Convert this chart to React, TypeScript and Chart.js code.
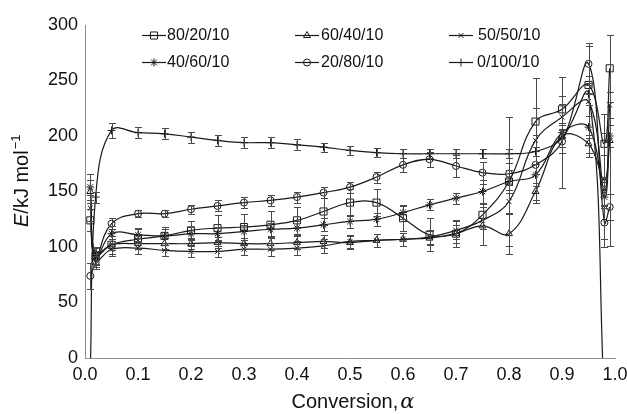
import React, { useEffect, useRef } from 'react';
import { Chart, registerables } from 'chart.js';

Chart.register(...registerables);

// ---------- data ----------
const ALPHA = [0.01, 0.02, 0.05, 0.1, 0.15, 0.2, 0.25, 0.3, 0.35, 0.4, 0.45, 0.5, 0.55, 0.6, 0.65, 0.7, 0.75, 0.8, 0.85, 0.9, 0.95, 0.98, 0.99];

const SERIES_LABELS = ['80/20/10', '60/40/10', '50/50/10', '40/60/10', '20/80/10', '0/100/10'];

const E_80_20 = [124, 92, 102, 107, 110, 115, 117, 118, 120, 124, 132, 140, 140, 126, 111, 112, 129, 159, 213, 224, 246, 193, 261];
const E_60_40 = [150, 94, 102, 103, 103, 103, 104, 103, 103, 104, 105, 104, 106, 107, 108, 112, 119, 112, 150, 200, 193, 160, 196];
const E_50_50 = [135, 88, 98, 99, 97, 96, 96, 98, 98, 99, 101, 105, 106, 107, 109, 115, 124, 141, 196, 217, 231, 150, 228];
const E_40_60 = [154, 90, 112, 111, 110, 112, 112, 114, 116, 117, 120, 123, 125, 131, 138, 144, 150, 159, 165, 203, 208, 145, 200];
const E_20_80 = [74, 86, 121, 130, 130, 134, 137, 140, 142, 145, 149, 154, 163, 174, 179, 173, 167, 166, 174, 195, 265, 122, 136];
const E_0_100 = [-10, 145, 205, 203, 202, 199, 196, 194, 194, 192, 190, 187, 185, 184, 184, 184, 184, 184, 186, 198, 238, -40, null];

const ERR_80_20 = [10, 7, 8, 9, 8, 8, 12, 12, 12, 12, 12, 12, 12, 12, 15, 12, 10, 58, 12, 12, 8, 10, 30];
const ERR_60_40 = [10, 6, 5, 5, 5, 5, 5, 5, 6, 6, 6, 6, 6, 6, 6, 8, 17, 18, 8, 10, 8, 60, 95];
const ERR_50_50 = [12, 6, 6, 5, 5, 5, 5, 5, 6, 6, 6, 6, 6, 6, 6, 8, 8, 10, 56, 12, 50, 12, 12];
const ERR_40_60 = [12, 6, 7, 6, 6, 6, 6, 6, 6, 6, 6, 6, 6, 6, 5, 5, 10, 10, 10, 50, 10, 10, 10];
const ERR_20_80 = [12, 6, 5, 3, 3, 4, 5, 5, 5, 5, 5, 5, 5, 6, 7, 10, 10, 10, 8, 10, 19, 15, 12];
const ERR_0_100 = [0, 5, 7, 5, 5, 5, 5, 5, 5, 5, 4, 4, 4, 4, 4, 4, 4, 4, 4, 8, 10, 0, 0];

const SERIES_VALUES = [E_80_20, E_60_40, E_50_50, E_40_60, E_20_80, E_0_100];
const SERIES_ERRORS = [ERR_80_20, ERR_60_40, ERR_50_50, ERR_40_60, ERR_20_80, ERR_0_100];
const POINT_STYLES = ['rect', 'triangle', 'crossRot', 'star', 'circle', 'cross'];
const POINT_RADII = [5, 4, 3.5, 4, 3.5, 4];

const X_MIN = 0;
const X_MAX = 1;
const X_STEP = 0.1;
const Y_MIN = 0;
const Y_MAX = 300;
const Y_STEP = 50;

// ---------- style ----------
const FONT = '"Liberation Sans", Arial, Helvetica, sans-serif';
const INK = '#1a1a1a';
const ERR_COLOR = '#4a4a4a';
const AXIS_COLOR = '#8f8f8f';

function drawMarker(ctx: CanvasRenderingContext2D, style: string, x: number, y: number, r: number) {
  ctx.beginPath();
  if (style === 'rect') {
    const s = r * Math.SQRT1_2;
    ctx.rect(x - s, y - s, 2 * s, 2 * s);
  } else if (style === 'circle') {
    ctx.arc(x, y, r, 0, Math.PI * 2);
  } else if (style === 'triangle') {
    let a = 0;
    ctx.moveTo(x + Math.sin(a) * r, y - Math.cos(a) * r);
    a += (2 * Math.PI) / 3;
    ctx.lineTo(x + Math.sin(a) * r, y - Math.cos(a) * r);
    a += (2 * Math.PI) / 3;
    ctx.lineTo(x + Math.sin(a) * r, y - Math.cos(a) * r);
    ctx.closePath();
  } else if (style === 'cross' || style === 'star') {
    ctx.moveTo(x, y - r);
    ctx.lineTo(x, y + r);
    ctx.moveTo(x - r, y);
    ctx.lineTo(x + r, y);
  }
  if (style === 'crossRot' || style === 'star') {
    const d = r * Math.SQRT1_2;
    ctx.moveTo(x - d, y - d);
    ctx.lineTo(x + d, y + d);
    ctx.moveTo(x - d, y + d);
    ctx.lineTo(x + d, y - d);
  }
  ctx.stroke();
}

const errorBarPlugin = {
  id: 'errorBars',
  afterDatasetsDraw(chart: any) {
    const { ctx, chartArea, scales } = chart;
    const xs = scales.x;
    const ys = scales.y;
    ctx.save();
    ctx.beginPath();
    ctx.rect(chartArea.left - 6, chartArea.top - 2, chartArea.right - chartArea.left + 12, chartArea.bottom - chartArea.top + 2);
    ctx.clip();
    ctx.strokeStyle = ERR_COLOR;
    ctx.lineWidth = 1;
    chart.data.datasets.forEach((ds: any) => {
      const errs: number[] = ds.errorValues || [];
      ds.data.forEach((p: any, i: number) => {
        const e = errs[i];
        if (p.y == null || !e) return;
        const px = Math.round(xs.getPixelForValue(p.x)) + 0.5;
        const yt = Math.round(ys.getPixelForValue(p.y + e)) + 0.5;
        const yb = Math.round(ys.getPixelForValue(p.y - e)) + 0.5;
        ctx.beginPath();
        ctx.moveTo(px, yt);
        ctx.lineTo(px, yb);
        ctx.moveTo(px - 3.5, yt);
        ctx.lineTo(px + 3.5, yt);
        ctx.moveTo(px - 3.5, yb);
        ctx.lineTo(px + 3.5, yb);
        ctx.stroke();
      });
    });
    ctx.restore();
  },
};

const LEGEND_SLOTS = [
  { lx: 142, tx: 167, y: 35 },
  { lx: 295, tx: 321, y: 35 },
  { lx: 449, tx: 478, y: 35 },
  { lx: 142, tx: 167, y: 62 },
  { lx: 295, tx: 321, y: 62 },
  { lx: 449, tx: 477, y: 62 },
];

const legendAndTitlesPlugin = {
  id: 'legendAndTitles',
  afterDraw(chart: any) {
    const { ctx, chartArea } = chart;
    ctx.save();
    // legend
    chart.data.datasets.forEach((ds: any, i: number) => {
      const slot = LEGEND_SLOTS[i];
      if (!slot) return;
      ctx.strokeStyle = INK;
      ctx.lineWidth = 1.2;
      ctx.beginPath();
      ctx.moveTo(slot.lx, slot.y + 0.5);
      ctx.lineTo(slot.lx + 24, slot.y + 0.5);
      ctx.stroke();
      ctx.lineWidth = 1;
      drawMarker(ctx, ds.pointStyle, slot.lx + 12, slot.y + 0.5, ds.pointRadius);
      ctx.fillStyle = '#111';
      ctx.font = `16px ${FONT}`;
      ctx.textAlign = 'left';
      ctx.textBaseline = 'middle';
      ctx.fillText(ds.label, slot.tx, slot.y + 1);
    });

    // x title: "Conversion, α" (α italic)
    const xc = (chartArea.left + chartArea.right) / 2 + 3;
    ctx.fillStyle = '#111';
    ctx.textBaseline = 'alphabetic';
    ctx.textAlign = 'left';
    const partA = 'Conversion,';
    const partB = 'α';
    ctx.font = `20px ${FONT}`;
    const wA = ctx.measureText(partA).width;
    ctx.font = `italic 21px "DejaVu Serif", "Liberation Serif", serif`;
    const wB = ctx.measureText(partB).width;
    const x0 = xc - (wA + wB + 2) / 2;
    ctx.font = `20px ${FONT}`;
    ctx.fillText(partA, x0, 408);
    ctx.font = `italic 21px "DejaVu Serif", "Liberation Serif", serif`;
    ctx.fillText(partB, x0 + wA + 2, 408);

    // y title: "E/kJ mol−1" rotated
    ctx.save();
    ctx.translate(28, 227);
    ctx.rotate(-Math.PI / 2);
    ctx.textAlign = 'left';
    ctx.textBaseline = 'alphabetic';
    let cx = 0;
    ctx.font = `italic 20px ${FONT}`;
    ctx.fillText('E', cx, 0);
    cx += ctx.measureText('E').width;
    ctx.font = `20px ${FONT}`;
    ctx.fillText('/kJ mol', cx, 0);
    cx += ctx.measureText('/kJ mol').width + 1;
    ctx.font = `13px ${FONT}`;
    ctx.fillText('\u22121', cx, -8);
    ctx.restore();

    ctx.restore();
  },
};

export default function App() {
  const canvasRef = useRef<HTMLCanvasElement | null>(null);

  useEffect(() => {
    if (!canvasRef.current) return;
    const datasets = SERIES_LABELS.map((label, si) => ({
      label,
      data: ALPHA.map((a, i) => ({ x: a, y: SERIES_VALUES[si][i] })),
      errorValues: SERIES_ERRORS[si],
      borderColor: INK,
      borderWidth: 1.2,
      pointStyle: POINT_STYLES[si],
      pointRadius: POINT_RADII[si],
      pointHoverRadius: POINT_RADII[si],
      pointBorderColor: INK,
      pointBackgroundColor: 'rgba(0,0,0,0)',
      pointBorderWidth: 1,
      tension: 0.4,
      fill: false,
      spanGaps: false,
    }));

    const chart = new Chart(canvasRef.current, {
      type: 'line',
      data: { datasets } as any,
      options: {
        animation: false,
        responsive: true,
        maintainAspectRatio: false,
        layout: { padding: { left: 0, right: 12, top: 25, bottom: 0 } },
        plugins: {
          legend: { display: false },
          tooltip: { enabled: false },
          title: { display: false },
        },
        events: [],
        scales: {
          x: {
            type: 'linear',
            min: X_MIN,
            max: X_MAX,
            grid: { display: false, drawTicks: false },
            border: { display: true, color: AXIS_COLOR, width: 1 },
            ticks: {
              stepSize: X_STEP,
              padding: 6,
              color: '#111',
              font: { family: FONT, size: 18 },
              callback: (v: any) => Number(v).toFixed(1),
            },
            afterFit: (scale: any) => {
              scale.height = 56;
              scale.paddingLeft = 0;
              scale.paddingRight = 0;
            },
          },
          y: {
            type: 'linear',
            min: Y_MIN,
            max: Y_MAX,
            grid: { display: false, drawTicks: false },
            border: { display: true, color: AXIS_COLOR, width: 1 },
            ticks: {
              stepSize: Y_STEP,
              padding: 7,
              color: '#111',
              font: { family: FONT, size: 18 },
            },
            afterFit: (scale: any) => {
              scale.width = 85;
              scale.paddingTop = 0;
              scale.paddingBottom = 0;
            },
          },
        },
      } as any,
      plugins: [errorBarPlugin, legendAndTitlesPlugin],
    });
    return () => chart.destroy();
  }, []);

  return (
    <div style={{ position: 'fixed', left: 0, top: 0, width: 627, height: 414, background: '#fff' }}>
      <canvas ref={canvasRef} />
    </div>
  );
}
